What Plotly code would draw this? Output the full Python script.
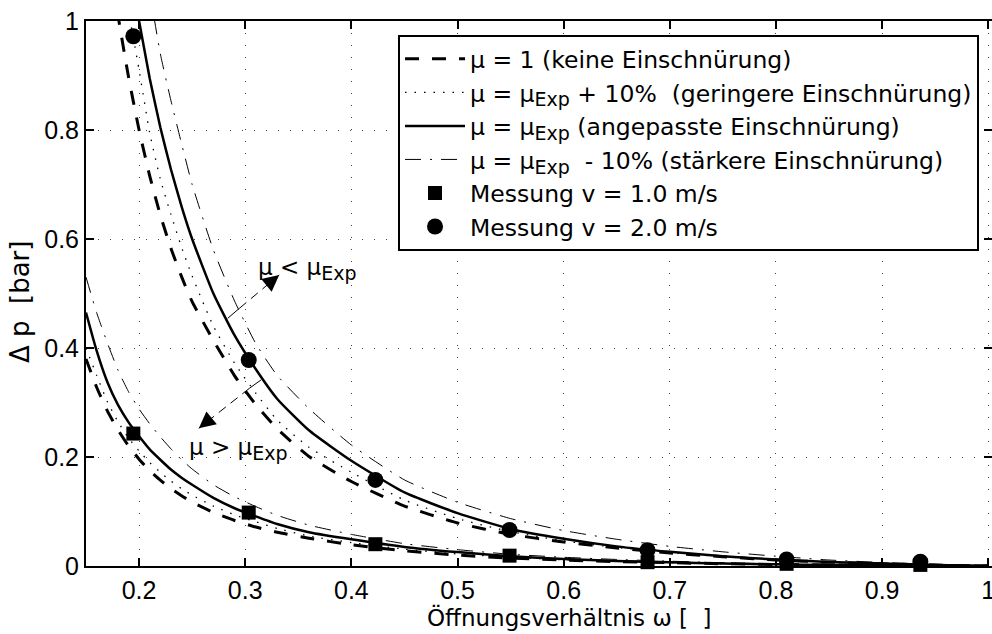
import plotly.graph_objects as go

# ---------------- data ----------------
omega = [0.15, 0.16, 0.17, 0.18, 0.19, 0.20, 0.21, 0.22, 0.23, 0.24, 0.25, 0.27, 0.29,
         0.31, 0.33, 0.36, 0.40, 0.45, 0.50, 0.55, 0.60, 0.65, 0.70, 0.75, 0.80, 0.85,
         0.90, 0.95, 1.00]

# v = 2.0 m/s curves
dp2_mu1 = [1.51, 1.31, 1.148, 1.012, 0.898, 0.80, 0.716, 0.644, 0.583, 0.531, 0.485, 0.414,
           0.349, 0.296, 0.252, 0.201, 0.155, 0.110, 0.079, 0.058, 0.044, 0.033, 0.024,
           0.017, 0.011, 0.007, 0.004, 0.0018, 0.0]
dp2_plus10 = [1.68, 1.46, 1.29, 1.15, 1.02, 0.91, 0.795, 0.71, 0.645, 0.585, 0.532, 0.44,
              0.372, 0.317, 0.268, 0.218, 0.172, 0.121, 0.087, 0.063, 0.046, 0.034, 0.025,
              0.017, 0.0115, 0.007, 0.004, 0.0018, 0.0]
dp2_exp = [1.80, 1.56, 1.37, 1.22, 1.10, 1.00, 0.895, 0.805, 0.728, 0.660, 0.60, 0.50, 0.423,
           0.361, 0.307, 0.249, 0.193, 0.135, 0.097, 0.068, 0.050, 0.036, 0.026, 0.018,
           0.012, 0.0075, 0.0045, 0.002, 0.0]
dp2_minus10 = [2.12, 1.84, 1.62, 1.44, 1.30, 1.18, 1.055, 0.94, 0.854, 0.775, 0.70, 0.58,
               0.486, 0.408, 0.35, 0.289, 0.222, 0.158, 0.117, 0.087, 0.065, 0.049, 0.036,
               0.026, 0.018, 0.011, 0.0065, 0.003, 0.0]

# v = 1.0 m/s curves
dp1_mu1 = [0.38, 0.328, 0.285, 0.250, 0.2205, 0.196, 0.175, 0.1575, 0.142, 0.129, 0.1174,
           0.0983, 0.0835, 0.0715, 0.062, 0.051, 0.039, 0.028, 0.020, 0.0145, 0.011, 0.008,
           0.006, 0.0042, 0.0028, 0.0018, 0.001, 0.0004, 0.0]
dp1_plus10 = [0.40, 0.350, 0.302, 0.265, 0.235, 0.211, 0.190, 0.172, 0.156, 0.142, 0.130,
              0.110, 0.094, 0.081, 0.069, 0.055, 0.043, 0.031, 0.022, 0.016, 0.0115, 0.0085,
              0.006, 0.004, 0.0027, 0.0018, 0.001, 0.0004, 0.0]
dp1_exp = [0.465, 0.395, 0.338, 0.296, 0.264, 0.238, 0.214, 0.195, 0.177, 0.162, 0.149, 0.125,
           0.106, 0.091, 0.077, 0.062, 0.049, 0.035, 0.0255, 0.018, 0.0128, 0.0093, 0.0067,
           0.0047, 0.003, 0.002, 0.0011, 0.0005, 0.0]
dp1_minus10 = [0.53, 0.465, 0.41, 0.360, 0.320, 0.288, 0.261, 0.237, 0.215, 0.195, 0.178, 0.149,
               0.127, 0.109, 0.093, 0.075, 0.058, 0.041, 0.030, 0.0215, 0.016, 0.012, 0.0088,
               0.006, 0.004, 0.0025, 0.0015, 0.0006, 0.0]

# measurements
meas_omega = [0.1946, 0.3033, 0.4226, 0.549, 0.679, 0.81, 0.936]
meas_v1 = [0.243, 0.098, 0.040, 0.019, 0.007, 0.004, 0.002]
meas_v2 = [0.972, 0.378, 0.158, 0.066, 0.029, 0.012, 0.008]

x_tickvals = [0.2, 0.3, 0.4, 0.5, 0.6, 0.7, 0.8, 0.9, 1.0]
x_ticktext = ["0.2", "0.3", "0.4", "0.5", "0.6", "0.7", "0.8", "0.9", "1"]
y_tickvals = [0, 0.2, 0.4, 0.6, 0.8, 1.0]
y_ticktext = ["0", "0.2", "0.4", "0.6", "0.8", "1"]

SUB = "<sub><span style='font-size:19px'>Exp</span></sub>"
legend_names = [
    "μ = 1 (keine Einschnürung)",
    "μ = μ" + SUB + " + 10%\u00a0\u00a0(geringere Einschnürung)",
    "μ = μ" + SUB + " (angepasste Einschnürung)",
    "μ = μ" + SUB + " \u00a0- 10% (stärkere Einschnürung)",
    "Messung v = 1.0 m/s",
    "Messung v = 2.0 m/s",
]

# ---------------- styling ----------------
TXT = "DejaVu Sans, Liberation Sans, Arial, sans-serif"
TICK = "Liberation Sans, Arial, Helvetica, sans-serif"

styles = [
    dict(width=3, dash="14px,13px"),          # mu = 1
    dict(width=1.3, dash="1.5px,8px"),        # +10%
    dict(width=2.5, dash="solid"),            # mu_exp
    dict(width=1, dash="16px,9px,2px,9px"),   # -10%
]
curves = [(dp1_mu1, dp2_mu1), (dp1_plus10, dp2_plus10), (dp1_exp, dp2_exp),
          (dp1_minus10, dp2_minus10)]

fig = go.Figure()
for i, ((lo, hi), st) in enumerate(zip(curves, styles)):
    for j, ys in enumerate((lo, hi)):
        fig.add_trace(go.Scatter(
            x=omega, y=ys, mode="lines", line=dict(color="black", shape="spline",
                                                    smoothing=0.5, **st),
            name=legend_names[i], legendgroup=f"g{i}", showlegend=(j == 0),
            legendrank=i + 1, hoverinfo="skip"))

fig.add_trace(go.Scatter(x=meas_omega, y=meas_v1, mode="markers", cliponaxis=False,
                         marker=dict(symbol="square", size=14, color="black"),
                         name=legend_names[4], legendrank=5))
fig.add_trace(go.Scatter(x=meas_omega, y=meas_v2, mode="markers", cliponaxis=False,
                         marker=dict(symbol="circle", size=16, color="black"),
                         name=legend_names[5], legendrank=6))

axis_common = dict(showline=True, linewidth=2, linecolor="black", mirror="ticks",
                   ticks="inside", ticklen=8, tickwidth=1.5, tickcolor="black",
                   showgrid=True, gridcolor="#444", gridwidth=1, griddash="1px,11px",
                   zeroline=False, tickfont=dict(family=TICK, size=25, color="black"))

fig.update_xaxes(range=[0.15, 1.0035], tickvals=x_tickvals, ticktext=x_ticktext,
                 automargin=False, ticklabelstandoff=1, ticklabeloverflow="allow",
                 **axis_common)
fig.update_yaxes(range=[0, 1], tickvals=y_tickvals, ticktext=y_ticktext,
                 automargin=False, **axis_common)

# arrows and annotations
arrow_line = dict(color="black", width=1)
fig.add_shape(type="line", x0=0.2835, y0=0.4545, x1=0.2945, y1=0.4728, line=arrow_line)
fig.add_shape(type="line", x0=0.2945, y0=0.4728, x1=0.332, y1=0.534,
              line=dict(color="black", width=1, dash="9px,6px"))
fig.add_shape(type="line", x0=0.3148, y0=0.3413, x1=0.3039, y1=0.326, line=arrow_line)
fig.add_shape(type="line", x0=0.3039, y0=0.326, x1=0.2563, y1=0.2527,
              line=dict(color="black", width=1, dash="9px,6px"))

fig.add_annotation(x=0.332, y=0.534, ax=-11, ay=9, text="", showarrow=True,
                   arrowhead=2, arrowsize=2.2, arrowwidth=1.5, arrowcolor="black")
fig.add_annotation(x=0.2563, y=0.2527, ax=11, ay=-9, text="", showarrow=True,
                   arrowhead=2, arrowsize=2.2, arrowwidth=1.5, arrowcolor="black")

fig.add_annotation(x=0.3101, y=0.545, xanchor="left", yanchor="middle", showarrow=False,
                   text="μ < μ" + SUB, font=dict(family=TXT, size=23, color="black"))
fig.add_annotation(x=0.2454, y=0.215, xanchor="left", yanchor="middle", showarrow=False,
                   text="μ > μ" + SUB, font=dict(family=TXT, size=23, color="black"))

# axis titles
fig.add_annotation(xref="paper", yref="paper", x=0.534, y=-0.0954, xanchor="center",
                   yanchor="middle", showarrow=False,
                   text="Öffnungsverhältnis ω [\u00a0\u00a0]",
                   font=dict(family=TXT, size=23, color="black"))
fig.add_annotation(xref="paper", yref="paper", x=-0.0728, y=0.4844, xanchor="center",
                   yanchor="middle", showarrow=False, textangle=-90,
                   text="Δ\u00a0p\u00a0\u00a0[bar]",
                   font=dict(family=TXT, size=26, color="black"))

fig.update_layout(
    width=992, height=634,
    margin=dict(l=86, r=0, t=21, b=68),
    paper_bgcolor="white", plot_bgcolor="white",
    font=dict(family=TXT, size=23, color="black"),
    showlegend=True,
    legend=dict(x=0.3444, y=0.9743, xanchor="left", yanchor="top", bgcolor="white",
                bordercolor="black", borderwidth=2, font=dict(family=TXT, size=23.5),
                itemwidth=60, tracegroupgap=0, traceorder="normal"),
)

fig.write_html("out.html")
